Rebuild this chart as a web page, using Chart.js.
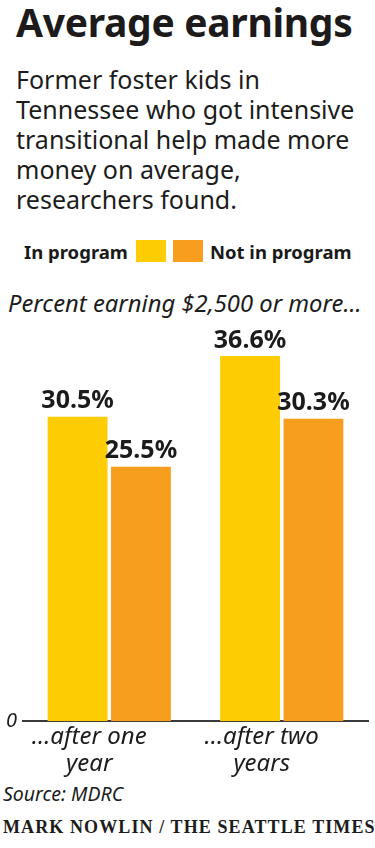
<!DOCTYPE html>
<html>
<head>
<meta charset="utf-8">
<script src="https://cdn.jsdelivr.net/npm/chart.js@4/dist/chart.umd.min.js"></script>
<style>
  html, body { margin: 0; padding: 0; background: #fff; }
  body { width: 375px; height: 848px; position: relative; overflow: hidden; font-family: "Noto Sans", sans-serif; color: #1a1a1a; }
  .abs { position: absolute; white-space: nowrap; }
  #title { left: 16px; top: -5px; font-size: 39px; font-weight: 700; letter-spacing: -0.3px; color: #1c1a1a; }
  #sub { left: 16px; top: 64px; font-size: 25px; line-height: 30px; white-space: normal; width: 359px; color: #1c1c1c; }
  #legend { left: 24px; top: 238px; height: 26px; font-size: 18.5px; font-weight: 700; display: flex; align-items: center; }
  #legend .box { display: inline-block; width: 30px; height: 22px; }
  #note { left: 8px; top: 287px; font-size: 23.8px; font-style: italic; color: #1c1c1c; }
  #chartWrap { position: absolute; left: 0; top: 304px; width: 375px; height: 476px; }
  #source { left: 3px; top: 780px; font-size: 19.5px; font-style: italic; color: #1c1c1c; }
  #credit { left: 3px; top: 817px; font-family: "Liberation Serif", serif; font-size: 18px; font-weight: 700; letter-spacing: 1.1px; color: #1c1c1c; }
</style>
</head>
<body>
<div id="title" class="abs">Average earnings</div>
<div id="sub" class="abs">Former foster kids in<br>Tennessee who got intensive<br>transitional help made more<br>money on average,<br>researchers found.</div>
<div id="legend" class="abs"><span>In program</span><span class="box" id="b1" style="margin-left:8px"></span><span class="box" id="b2" style="margin-left:7px"></span><span style="margin-left:7px">Not in program</span></div>
<div id="note" class="abs">Percent earning $2,500 or more...</div>
<div id="chartWrap"><canvas id="c"></canvas></div>
<div id="source" class="abs">Source: MDRC</div>
<div id="credit" class="abs">MARK NOWLIN / THE SEATTLE TIMES</div>
<script>
const categories = [["...after one", "year"], ["...after two", "years"]];
const seriesNames = ["In program", "Not in program"];
const inProgram = [30.5, 36.6];
const notInProgram = [25.5, 30.3];
const yTicks = [0];
const colors = ["#FECC02", "#F89E1F"];

document.getElementById('b1').style.background = colors[0];
document.getElementById('b2').style.background = colors[1];

const labelPlugin = {
  id: 'valueLabels',
  afterDatasetsDraw(chart) {
    const ctx = chart.ctx;
    ctx.save();
    ctx.font = '700 25px "Noto Sans", sans-serif';
    ctx.fillStyle = '#1c1a1a';
    ctx.textAlign = 'center';
    ctx.textBaseline = 'bottom';
    chart.data.datasets.forEach((ds, di) => {
      const meta = chart.getDatasetMeta(di);
      meta.data.forEach((bar, i) => {
        ctx.fillText(ds.data[i].toFixed(1) + '%', bar.x, bar.y - 3);
      });
    });
    ctx.restore();
  }
};

new Chart(document.getElementById('c'), {
  type: 'bar',
  data: {
    labels: categories,
    datasets: [
      { label: seriesNames[0], data: inProgram, backgroundColor: colors[0], categoryPercentage: 0.735, barPercentage: 0.944 },
      { label: seriesNames[1], data: notInProgram, backgroundColor: colors[1], categoryPercentage: 0.735, barPercentage: 0.944 }
    ]
  },
  options: {
    responsive: true,
    maintainAspectRatio: false,
    animation: false,
    layout: { padding: { top: 0, left: 0, right: 7, bottom: 0 } },
    plugins: { legend: { display: false }, tooltip: { enabled: false } },
    scales: {
      x: {
        grid: { display: false, drawTicks: false },
        border: { display: true, color: '#3a3a3a', width: 2 },
        ticks: {
          color: '#1c1c1c',
          padding: 3,
          labelOffset: -20,
          maxRotation: 0,
          font: { family: '"Noto Sans", sans-serif', size: 24, style: 'italic', lineHeight: 1.1 }
        }
      },
      y: {
        min: 0,
        max: 40,
        afterBuildTicks(axis) { axis.ticks = yTicks.map(v => ({ value: v })); },
        grid: { display: false, drawTicks: false },
        border: { display: false },
        ticks: {
          color: '#1c1c1c',
          padding: 6,
          font: { family: '"Noto Sans", sans-serif', size: 20, style: 'italic' }
        }
      }
    }
  },
  plugins: [labelPlugin]
});
</script>
</body>
</html>
